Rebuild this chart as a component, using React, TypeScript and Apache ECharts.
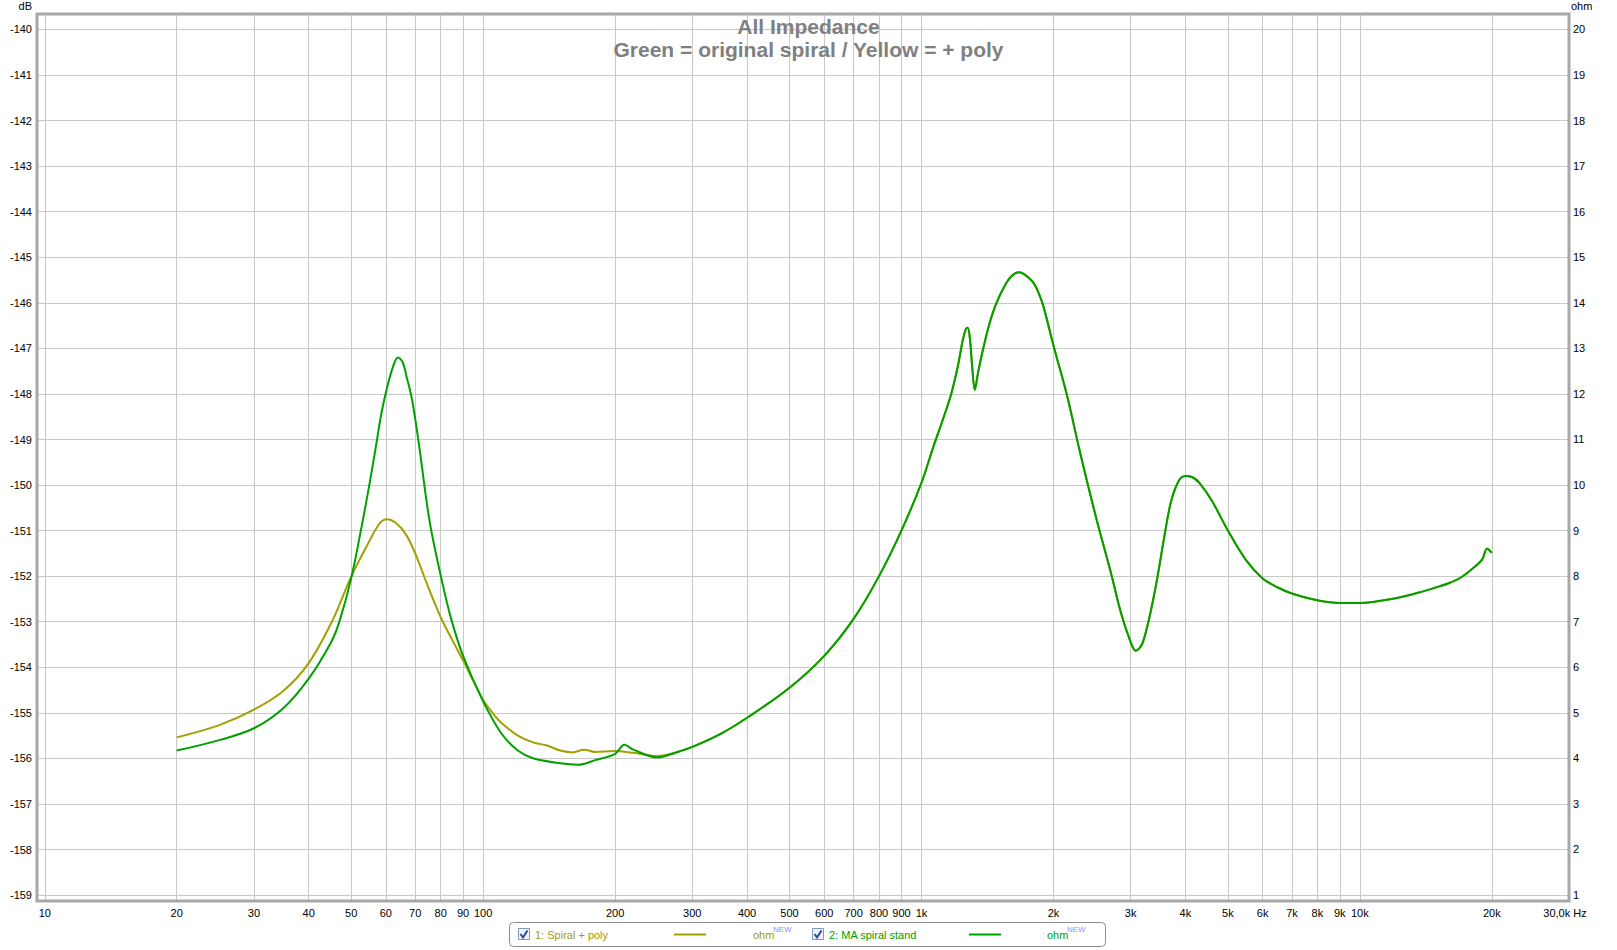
import React, { useEffect, useRef } from 'react';
import * as echarts from 'echarts';

// ---- Data (frequency in Hz, impedance in ohm) ----
const greenLowFreq = [20, 25, 30, 35, 40, 45, 47, 50, 52.8, 55.1, 57.1, 58.6, 60.3, 62.3, 63.9, 65.5, 67, 68.6, 70, 71.6, 75.5, 80.3, 84.6, 90, 100, 110, 120, 130, 150, 165, 180, 200, 210, 220, 250, 280];
const greenLowOhm = [4.17, 4.40, 4.66, 5.1, 5.75, 6.55, 7.0, 7.95, 9.08, 10.04, 10.92, 11.57, 12.12, 12.6, 12.8, 12.7, 12.35, 11.95, 11.45, 10.8, 9.2, 7.95, 7.05, 6.25, 5.25, 4.55, 4.17, 4.0, 3.89, 3.86, 3.96, 4.10, 4.30, 4.19, 4.02, 4.15];

const yellowLowFreq = [20, 25, 30, 35, 40, 45.4, 50, 54.2, 58.1, 60.3, 63.4, 66.8, 70, 75, 80, 85, 90, 95, 100, 105, 110, 120, 130, 140, 150, 160, 170, 180, 200, 220, 250, 280];
const yellowLowOhm = [4.46, 4.73, 5.07, 5.48, 6.09, 7.04, 7.99, 8.65, 9.16, 9.25, 9.16, 8.9, 8.5, 7.75, 7.1, 6.6, 6.15, 5.7, 5.28, 5.0, 4.78, 4.50, 4.35, 4.28, 4.17, 4.13, 4.19, 4.14, 4.16, 4.12, 4.05, 4.15];

const sharedFreq = [300, 350, 400, 500, 600, 700, 800, 900, 1000, 1061, 1120, 1169, 1210, 1242, 1262, 1275, 1290, 1305, 1323, 1345, 1380, 1430, 1481, 1560, 1610, 1667, 1720, 1794, 1850, 1900, 2003, 2150, 2293, 2500, 2700, 2850, 3000, 3080, 3200, 3400, 3600, 3700, 3800, 3900, 4000, 4150, 4300, 4600, 5000, 5500, 6000, 6500, 7000, 8000, 9000, 10000, 12000, 14000, 15000, 16000, 17000, 18000, 19000, 19500, 20000];
const sharedOhm = [4.25, 4.55, 4.89, 5.55, 6.25, 7.06, 8.0, 9.0, 10.05, 10.8, 11.45, 12.0, 12.6, 13.18, 13.42, 13.45, 13.2, 12.6, 12.09, 12.45, 12.96, 13.55, 13.99, 14.43, 14.6, 14.67, 14.62, 14.46, 14.22, 13.9, 13.04, 11.95, 10.77, 9.3, 8.1, 7.2, 6.55, 6.36, 6.55, 7.63, 9.0, 9.6, 9.95, 10.15, 10.2, 10.17, 10.05, 9.65, 9.0, 8.35, 7.95, 7.75, 7.62, 7.47, 7.41, 7.41, 7.51, 7.67, 7.76, 7.85, 7.97, 8.15, 8.36, 8.6, 8.51];

const gridFreqs = [10, 20, 30, 40, 50, 60, 70, 80, 90, 100, 200, 300, 400, 500, 600, 700, 800, 900, 1000, 2000, 3000, 4000, 5000, 6000, 7000, 8000, 9000, 10000, 20000, 30000];
const gridLabels = ['10', '20', '30', '40', '50', '60', '70', '80', '90', '100', '200', '300', '400', '500', '600', '700', '800', '900', '1k', '2k', '3k', '4k', '5k', '6k', '7k', '8k', '9k', '10k', '20k', '30,0k Hz'];

const titleText = 'All Impedance\nGreen = original spiral / Yellow = + poly';
const seriesNames = ['1: Spiral + poly', '2: MA spiral stand'];
const YELLOW = '#a0a000';
const GREEN = '#00a000';
const FONT = "'Liberation Sans', Arial, sans-serif";

function pairs(f: number[], v: number[]) {
  return f.map((x, i) => [x, v[i]]);
}

export default function App() {
  const ref = useRef<HTMLDivElement>(null);
  useEffect(() => {
    if (!ref.current) return;
    const chart = echarts.init(ref.current, null, { renderer: 'svg' });
    const yellowData = pairs(yellowLowFreq, yellowLowOhm).concat(pairs(sharedFreq, sharedOhm));
    const greenData = pairs(greenLowFreq, greenLowOhm).concat(pairs(sharedFreq, sharedOhm));

    const legendItem = (x0: number, name: string, color: string, lineX: number, ohmX: number) => [
      { type: 'rect', shape: { x: x0 + 0.5, y: 928.5, width: 11, height: 11 }, style: { fill: '#eef2fa', stroke: '#7f9db9', lineWidth: 1 }, silent: true },
      { type: 'polyline', shape: { points: [[x0 + 2.5, 934], [x0 + 5, 937.5], [x0 + 9.5, 930.5]] }, style: { stroke: '#2a4aa0', lineWidth: 2, fill: 'none' }, silent: true },
      { type: 'text', x: x0 + 17, y: 934.5, style: { text: name, fill: color, font: `11px ${FONT}`, verticalAlign: 'middle' }, silent: true },
      { type: 'line', shape: { x1: lineX, y1: 934.5, x2: lineX + 32, y2: 934.5 }, style: { stroke: color, lineWidth: 2 }, silent: true },
      { type: 'text', x: ohmX, y: 934.5, style: { text: 'ohm', fill: color, font: `11px ${FONT}`, verticalAlign: 'middle' }, silent: true },
      { type: 'text', x: ohmX + 20, y: 929.5, style: { text: 'NEW', fill: '#9090ff', font: `8px ${FONT}`, verticalAlign: 'middle' }, silent: true },
    ];

    chart.setOption({
      animation: false,
      backgroundColor: '#ffffff',
      title: {
        text: titleText,
        left: 'center',
        top: 15,
        padding: 0,
        textStyle: { fontFamily: FONT, fontSize: 21, fontWeight: 'bold', color: '#808080', lineHeight: 23 },
      },
      grid: { left: 37, right: 48, top: 14, bottom: 49 },
      xAxis: {
        type: 'log',
        min: 9.6,
        max: 30000,
        axisLine: { show: false },
        axisTick: { show: false },
        axisLabel: { show: false },
        splitLine: { show: false },
      },
      yAxis: [
        {
          type: 'value',
          min: -159.13,
          max: -139.66,
          minInterval: 1,
          maxInterval: 1,
          position: 'left',
          name: 'dB',
          nameLocation: 'end',
          nameGap: 3,
          nameTextStyle: { align: 'right', padding: [0, 5, 0, 0], fontSize: 11, color: '#000', fontFamily: FONT },
          axisLine: { show: false },
          axisTick: { show: false },
          axisLabel: { showMinLabel: false, showMaxLabel: false, margin: 5, fontSize: 11, color: '#000', fontFamily: FONT },
          splitLine: { show: true, showMinLine: false, showMaxLine: false, lineStyle: { color: '#c8c8c8', width: 1 } },
        },
        {
          type: 'value',
          min: 0.868,
          max: 20.34,
          minInterval: 1,
          maxInterval: 1,
          position: 'right',
          name: 'ohm',
          nameLocation: 'end',
          nameGap: 3,
          nameTextStyle: { align: 'left', padding: [0, 0, 0, 2], fontSize: 11, color: '#000', fontFamily: FONT },
          axisLine: { show: false },
          axisTick: { show: false },
          axisLabel: { showMinLabel: false, showMaxLabel: false, margin: 4, fontSize: 11, color: '#000', fontFamily: FONT },
          splitLine: { show: false },
        },
      ],
      series: [
        {
          name: 'grid',
          type: 'line',
          data: [],
          yAxisIndex: 0,
          silent: true,
          markLine: {
            silent: true,
            z: 1,
            symbol: ['none', 'none'],
            animation: false,
            lineStyle: { color: '#c8c8c8', width: 1, type: 'solid' },
            emphasis: { disabled: true },
            label: { show: true, position: 'start', distance: 6, fontSize: 11, color: '#000', fontFamily: FONT },
            data: gridFreqs.map((f, i) => ({
              xAxis: f,
              label: { formatter: gridLabels[i], offset: i === gridFreqs.length - 1 ? [-4, 0] : [0, 0] },
            })),
          },
        },
        {
          name: seriesNames[0],
          type: 'line',
          yAxisIndex: 1,
          data: yellowData,
          showSymbol: false,
          smooth: 0.35,
          z: 3,
          lineStyle: { color: YELLOW, width: 2 },
          itemStyle: { color: YELLOW },
        },
        {
          name: seriesNames[1],
          type: 'line',
          yAxisIndex: 1,
          data: greenData,
          showSymbol: false,
          smooth: 0.35,
          z: 4,
          lineStyle: { color: GREEN, width: 2 },
          itemStyle: { color: GREEN },
        },
      ],
      graphic: [
        { type: 'rect', z: 100, silent: true, shape: { x: 37, y: 14, width: 1532, height: 887 }, style: { fill: 'none', stroke: '#a8a8a8', lineWidth: 3 } },
        { type: 'rect', z: 100, silent: true, shape: { x: 509.5, y: 922.5, width: 596, height: 24, r: 4 }, style: { fill: '#ffffff', stroke: '#8c8c8c', lineWidth: 1 } },
        ...legendItem(518, seriesNames[0], YELLOW, 674, 753).map((e) => ({ ...e, z: 101 })),
        ...legendItem(812, seriesNames[1], GREEN, 969, 1047).map((e) => ({ ...e, z: 101 })),
      ],
    });
    return () => chart.dispose();
  }, []);
  return <div ref={ref} style={{ position: 'fixed', left: 0, top: 0, width: 1617, height: 950, background: '#fff' }} />;
}
